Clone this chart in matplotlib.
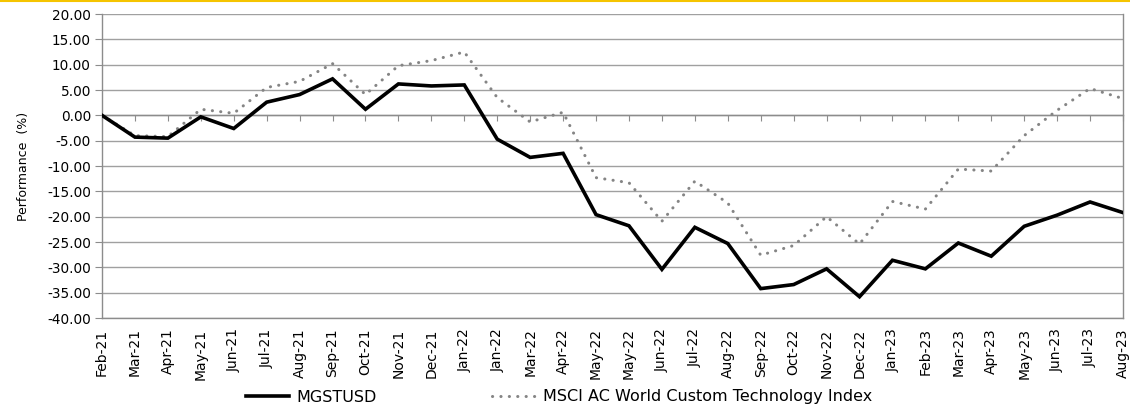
import matplotlib
matplotlib.use("Agg")
import matplotlib.pyplot as plt
from matplotlib.lines import Line2D

categories = ["Feb-21", "Mar-21", "Apr-21", "May-21", "Jun-21", "Jul-21", "Aug-21", "Sep-21",
              "Oct-21", "Nov-21", "Dec-21", "Jan-22", "Jan-22", "Mar-22", "Apr-22", "May-22",
              "May-22", "Jun-22", "Jul-22", "Aug-22", "Sep-22", "Oct-22", "Nov-22", "Dec-22",
              "Jan-23", "Feb-23", "Mar-23", "Apr-23", "May-23", "Jun-23", "Jul-23", "Aug-23"]

mgstusd = [0.0, -4.3, -4.5, -0.3, -2.6, 2.6, 4.1, 7.2, 1.2, 6.2, 5.8, 6.0,
           -4.7, -8.3, -7.5, -19.6, -21.8, -30.4, -22.1, -25.3, -34.2, -33.4, -30.3, -35.8,
           -28.6, -30.3, -25.2, -27.8, -21.9, -19.7, -17.1, -19.2]

msci = [0.0, -4.0, -4.2, 1.2, 0.4, 5.5, 6.7, 10.2, 4.1, 9.8, 10.8, 12.5,
        3.5, -1.3, 0.6, -12.3, -13.3, -20.9, -13.0, -17.3, -27.6, -25.7, -20.0, -25.4,
        -17.0, -18.5, -10.6, -11.0, -4.0, 1.0, 5.3, 3.3]

yticks = [20, 15, 10, 5, 0, -5, -10, -15, -20, -25, -30, -35, -40]

W, H = 1130, 409
fig = plt.figure(figsize=(W / 100, H / 100), dpi=100)
ax = fig.add_axes([102 / W, 1 - 318 / H, (1123 - 102) / W, (318 - 14) / H])

x = list(range(len(categories)))
ax.plot(x, mgstusd, color="black", linewidth=2.6, solid_joinstyle="miter", label="MGSTUSD", zorder=4)
ax.plot(x, msci, color="#858585", linewidth=2.2, linestyle=(0, (0.05, 2.7)),
        dash_capstyle="round", label="MSCI AC World Custom Technology Index", zorder=3)

ax.set_xlim(0, len(categories) - 1)
ax.set_ylim(-40, 20)
ax.set_yticks(yticks)
ax.set_yticklabels([f"{v:.2f}" for v in yticks], fontsize=9.8)
ax.set_xticks(x)
ax.set_xticklabels(categories, fontsize=8.3)

ax.grid(axis="y", color="#a0a0a0", linewidth=1.0)
ax.set_axisbelow(True)

gray = "#8c8c8c"
ax.spines["top"].set_position(("data", 0))
for s in ["top", "bottom", "left", "right"]:
    ax.spines[s].set_color(gray)
    ax.spines[s].set_linewidth(1.0)
ax.tick_params(axis="x", top=True, bottom=False, labelbottom=True, labeltop=False,
               direction="in", length=4, color=gray, pad=7.5, labelrotation=90)
ax.tick_params(axis="y", direction="out", length=5, color=gray, pad=3)

ax.set_ylabel("Performance  (%)", fontsize=9, labelpad=12)

handles = [Line2D([], [], color="black", linewidth=2.6),
           Line2D([], [], color="#858585", linewidth=2.2, linestyle=(0, (0.05, 2.7)), dash_capstyle="round")]
fig.legend(handles, ["MGSTUSD", "MSCI AC World Custom Technology Index"], loc="center",
           bbox_to_anchor=(559 / W, 1 - 397 / H), ncol=2, frameon=False, fontsize=11.5,
           handlelength=2.7, handletextpad=0.5, columnspacing=7.2)

fig.add_artist(Line2D([0, 1], [1 - 0.8 / H, 1 - 0.8 / H], transform=fig.transFigure,
                      color="#f5c400", linewidth=1.5))

fig.savefig("out.png", dpi=100)
